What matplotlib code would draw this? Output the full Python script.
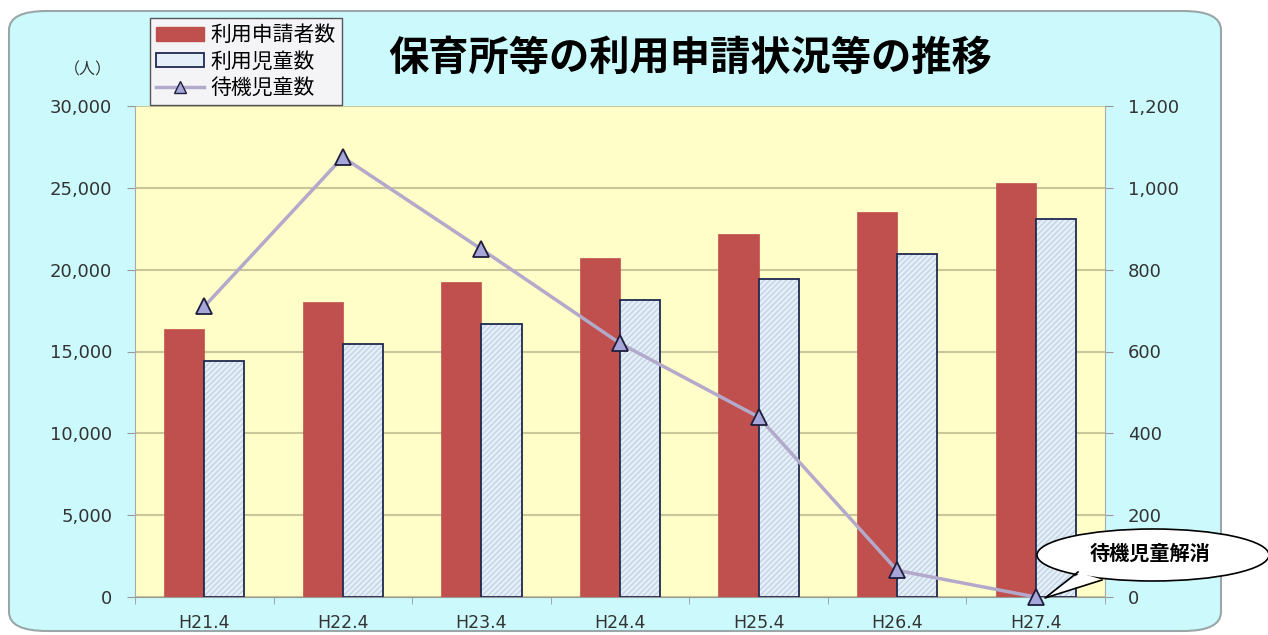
import matplotlib
matplotlib.use("Agg")
import matplotlib.pyplot as plt
from matplotlib.patches import FancyBboxPatch, Ellipse, Polygon
from matplotlib.lines import Line2D
from matplotlib.ticker import FuncFormatter
import numpy as np

plt.rcParams['font.family'] = ['Noto Sans CJK JP', 'DejaVu Sans']

categories = ["H21.4", "H22.4", "H23.4", "H24.4", "H25.4", "H26.4", "H27.4"]
applicants = [16400, 18000, 19250, 20700, 22200, 23500, 25300]   # 利用申請者数
enrolled = [14450, 15450, 16700, 18150, 19450, 20950, 23100]     # 利用児童数
waiting = [710, 1075, 850, 620, 440, 65, 0]                      # 待機児童数

W, H = 1268, 635
fig = plt.figure(figsize=(W / 100, H / 100), dpi=100)
fig.patch.set_facecolor("white")


def fx(px):
    return px / W


def fy(py):
    return 1 - py / H


# 背景パネル（角丸）
panel = FancyBboxPatch((fx(9), fy(631)), fx(1221) - fx(9), fy(11) - fy(631),
                       boxstyle="round,pad=0,rounding_size=0.03",
                       transform=fig.transFigure, facecolor="#CCFAFC",
                       edgecolor="#9AA6A8", linewidth=1.5, zorder=0)
fig.patches.append(panel)

ax = fig.add_axes([fx(135), fy(597), (1105 - 135) / W, (597 - 106) / H])
ax.set_facecolor("#FFFDC8")
ax.set_zorder(1)

x = np.arange(len(categories))
bw = 0.29
ax.bar(x - bw / 2, applicants, bw, color="#C0504D", edgecolor="#C0504D",
       linewidth=0.5, zorder=3)
# 利用児童数: 薄い斜線ハッチ + 濃い枠線
ax.bar(x + bw / 2, enrolled, bw, color="#E4EFF9", edgecolor="#C4D4E2",
       hatch="//////", linewidth=0, zorder=3)
ax.bar(x + bw / 2, enrolled, bw, fill=False, edgecolor="#1F2A50",
       linewidth=1.3, zorder=4)

ax.set_ylim(0, 30000)
ax.set_xlim(-0.5, len(categories) - 0.5)
ax.set_yticks(np.arange(0, 30001, 5000))
ax.yaxis.set_major_formatter(FuncFormatter(lambda v, p: f"{int(v):,}"))
ax.grid(axis="y", color="#C9C69A", linewidth=1.5, zorder=1)
ax.set_xticks(x)
ax.set_xticklabels(categories)
ax.set_xticks(np.arange(-0.5, len(categories), 1), minor=True)
ax.tick_params(axis="x", which="major", length=0, pad=12, labelsize=12.5,
               labelcolor="#333333")
ax.tick_params(axis="x", which="minor", length=5, color="#999999")
ax.tick_params(axis="y", length=6, color="#999999", pad=10.5, labelsize=13,
               labelcolor="#333333")
for lab in ax.get_xticklabels() + ax.get_yticklabels():
    lab.set_family("DejaVu Sans")
for s in ("top", "right", "left"):
    ax.spines[s].set_visible(False)
ax.spines["left"].set_visible(True)
ax.spines["left"].set_color("#AAAAAA")
ax.spines["bottom"].set_color("#999999")

ax2 = ax.twinx()
ax2.set_ylim(0, 1200)
ax2.set_yticks(np.arange(0, 1201, 200))
ax2.yaxis.set_major_formatter(FuncFormatter(lambda v, p: f"{int(v):,}"))
ax2.tick_params(axis="y", length=6, color="#999999", pad=10.5, labelsize=13,
                labelcolor="#333333")
for lab in ax2.get_yticklabels():
    lab.set_family("DejaVu Sans")
for s in ("top", "left", "bottom"):
    ax2.spines[s].set_visible(False)
ax2.spines["right"].set_color("#AAAAAA")
ax2.plot(x, waiting, color="#B3A9CB", linewidth=2.5, marker="^",
         markersize=11, markerfacecolor="#A6A6D8", markeredgecolor="#1E1E3C",
         markeredgewidth=1.3, zorder=5, clip_on=False)

fig.text(fx(88), fy(70), "（人）", ha="center", va="center", fontsize=11.5,
         color="#333333")

fig.text(fx(690), fy(58), "保育所等の利用申請状況等の推移", ha="center",
         va="center", fontsize=29, fontweight="bold")

# 凡例
handles = [
    plt.Rectangle((0, 0), 1, 1, facecolor="#C0504D", edgecolor="#C0504D"),
    plt.Rectangle((0, 0), 1, 1, facecolor="#E4EFF9", edgecolor="#1F2A50",
                  linewidth=1.3),
    Line2D([0], [0], color="#B3A9CB", linewidth=2.5, marker="^",
           markersize=9, markerfacecolor="#A6A6D8", markeredgecolor="#1E1E3C"),
]
labels = ["利用申請者数", "利用児童数", "待機児童数"]
leg = fig.legend(handles, labels, loc="upper left",
                 bbox_to_anchor=(fx(150), fy(18)), frameon=True,
                 fancybox=False, edgecolor="#555555", facecolor="#F4F4F6",
                 framealpha=1, fontsize=15, handlelength=2.3,
                 handleheight=0.6, labelspacing=0.2, borderpad=0.3,
                 handletextpad=0.3, borderaxespad=0)
leg.set_zorder(10)

# 吹き出し
ell = Ellipse((fx(1153), fy(555)), fx(232), 52 / H, transform=fig.transFigure,
              facecolor="white", edgecolor="black", linewidth=1.2, zorder=20)
fig.patches.append(ell)
tail = Polygon([(fx(1080), fy(573)), (fx(1045), fy(598)), (fx(1100), fy(579))],
               closed=True, transform=fig.transFigure, facecolor="white",
               edgecolor="none", zorder=21)
fig.patches.append(tail)
fig.lines.append(Line2D([fx(1078), fx(1045), fx(1102)],
                        [fy(572), fy(598), fy(580)], transform=fig.transFigure,
                        color="black", linewidth=1.2, zorder=22))
fig.text(fx(1150), fy(553), "待機児童解消", ha="center", va="center",
         fontsize=14.5, fontweight="bold", zorder=23)

fig.savefig("out.png", dpi=100)
